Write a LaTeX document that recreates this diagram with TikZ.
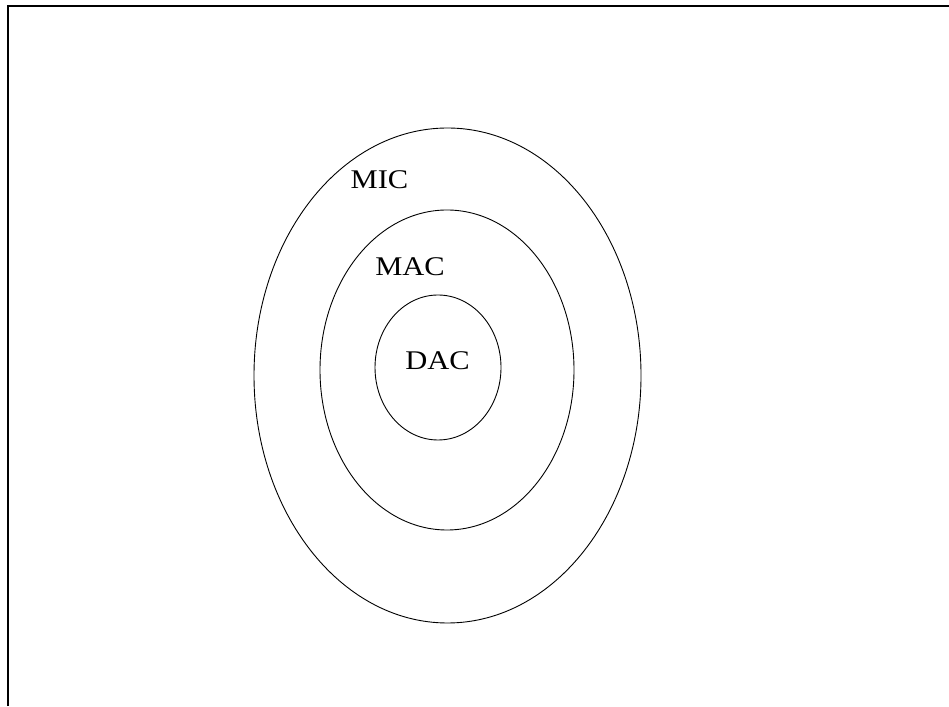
\documentclass[tikz,border=0pt]{standalone}
\usepackage{fontspec}
\setmainfont{Liberation Serif}
\begin{document}
\begin{tikzpicture}[x=1pt,y=1pt,
  ring/.style={draw=black,line width=0.9pt},
  lbl/.style={font=\fontsize{27}{30}\selectfont,inner sep=0pt,xscale=1.13}]
\useasboundingbox (0,0) rectangle (949,706);
\fill[white] (0,0) rectangle (949,706);
\coordinate (bl) at (8,0);
\coordinate (tl) at (8,700);
\coordinate (tr) at (949,700);
\draw[line width=1.6pt] (bl) -- (tl) -- (tr);
\draw[ring] (447.5,330.5) ellipse [x radius=193.5, y radius=247.5];
\draw[ring] (447,336) ellipse [x radius=127, y radius=160];
\draw[ring] (438,338.5) ellipse [x radius=63, y radius=72.5];
\node[lbl] (mic) at (379.5,526) {MIC};
\node[lbl] (mac) at (410,439) {MAC};
\node[lbl] (dac) at (437.5,345) {DAC};
\end{tikzpicture}
\end{document}
